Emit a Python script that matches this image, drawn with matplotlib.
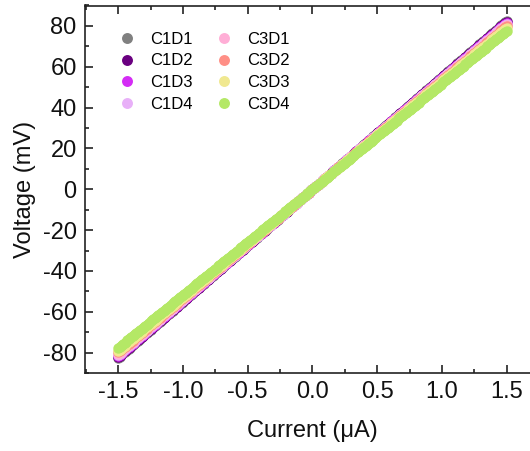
import numpy as np
import matplotlib
matplotlib.use("Agg")
import matplotlib.pyplot as plt
from matplotlib.ticker import MultipleLocator

plt.rcParams['font.family'] = ['Liberation Sans', 'DejaVu Sans']

# device labels and colours
devices = ["C1D1", "C1D2", "C1D3", "C1D4", "C3D1", "C3D2", "C3D3", "C3D4"]
colors = ["#808080", "#6a0080", "#d42cf5", "#e8b0f8",
          "#ffaed6", "#ff8f86", "#f0e890", "#b4e866"]
# fitted resistance of each device (kOhm = mV/uA), read from end points
resistance_kohm = [55.0, 54.7, 54.4, 54.1, 53.7, 53.3, 52.8, 51.8]
# current sweep (uA)
current_ua = np.round(np.arange(-1.5, 1.5001, 0.01), 2)

fig = plt.figure(figsize=(5.30, 4.51), dpi=100)
ax = fig.add_axes([85/530, 78/451, 454/530, 367.5/451])

for name, col, r in zip(devices, colors, resistance_kohm):
    ax.plot(current_ua, r * current_ua, 'o', color=col, ms=7.5,
            mec='none', label=name, linestyle='none')

ax.set_xlim(-1.757, 1.75)
ax.set_ylim(-90, 90)
ax.xaxis.set_minor_locator(MultipleLocator(0.25))
ax.yaxis.set_minor_locator(MultipleLocator(10))
ax.set_xticks([-1.5, -1.0, -0.5, 0.0, 0.5, 1.0, 1.5])
ax.set_xticklabels(["-1.5", "-1.0", "-0.5", "0.0", "0.5", "1.0", "1.5"])
ax.set_yticks([-80, -60, -40, -20, 0, 20, 40, 60, 80])
ax.set_yticklabels(["-80", "-60", "-40", "-20", "0", "20", "40", "60", "80"])
ax.tick_params(which='both', direction='in', top=True, right=True,
               labelsize=17, color='#222222', width=1.2, labelcolor='#111111')
ax.tick_params(which='major', length=6, pad=6)
ax.tick_params(which='minor', length=3)
for s in ax.spines.values():
    s.set_linewidth(1.2)
    s.set_color('#222222')

ax.set_xlabel("Current (\u03bcA)", fontsize=17, labelpad=12, color='#111111')
ax.set_ylabel("Voltage (mV)", fontsize=17, labelpad=5, color='#111111')

ax.legend(loc='upper left', bbox_to_anchor=(0.045, 0.965), ncol=2,
          frameon=False, fontsize=12, markerscale=1.05,
          handletextpad=0.9, columnspacing=1.35, labelspacing=0.4,
          handlelength=1.0, borderpad=0.3)

fig.savefig("out.png", dpi=100)
